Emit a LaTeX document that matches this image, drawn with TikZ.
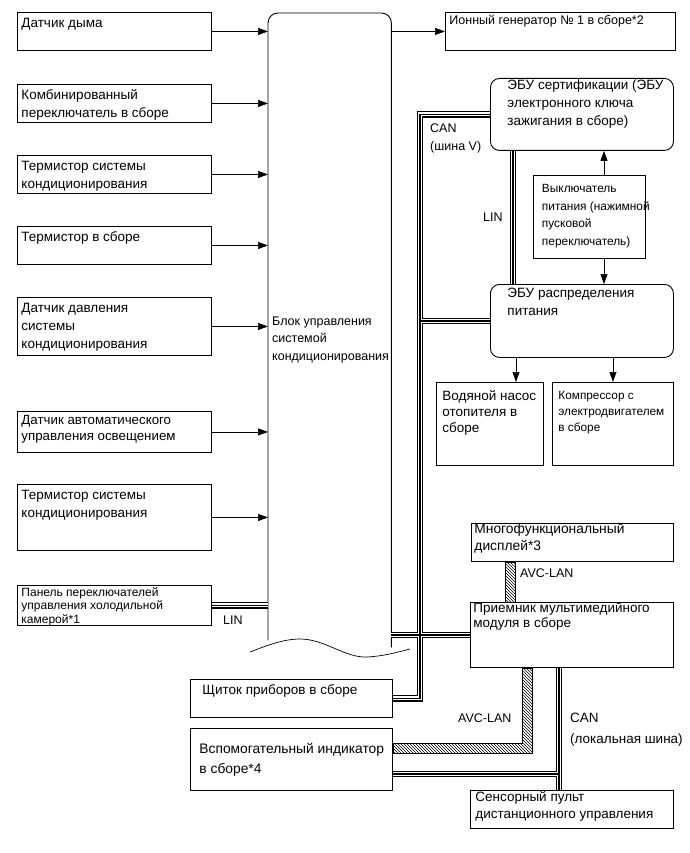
\documentclass[tikz,border=0pt]{standalone}
\usepackage{fontspec}
\setmainfont{Liberation Sans}
\usetikzlibrary{positioning, arrows.meta, patterns}

% text block of fixed size: width, height, left inset, first baseline, text
\newcommand{\cellbox}[5]{\makebox[#1pt][l]{\parbox[c][#2pt][t]{400pt}{\raggedright\leftskip=#3pt\relax
  \vspace*{\dimexpr#4pt-\ht\strutbox\relax}\strut#5\par}}}

\tikzset{
    unitbox/.style={rectangle, draw, line width=0.9pt, inner sep=0pt, anchor=north west, font=\fontsize{13.5}{18}\selectfont},
    ecubox/.style={unitbox, rounded corners=9pt},
    smallbox/.style={unitbox, font=\fontsize{12}{13.5}\selectfont},
    arr/.style={-{Triangle[length=10pt, width=7pt]}, line width=0.7pt},
    bus/.style={line width=6.5pt, black, postaction={draw, white, line width=4pt}, postaction={draw, black, line width=1.6pt}},
    avclan/.style={draw, line width=0.7pt, pattern=north west lines},
    buslbl/.style={font=\fontsize{12.5}{18}\selectfont, align=left, inner sep=0pt}
}

\begin{document}
\begin{tikzpicture}[x=1pt, y=-1pt]
    \useasboundingbox (0,0) rectangle (689,853);

    % inputs
    \node[unitbox] (b1) at (17,12) {\cellbox{194}{38}{4}{15}{Датчик дыма}};
    \node[unitbox] (b2) at (17,84) {\cellbox{194}{38}{4}{15}{Комбинированный\\переключатель в сборе}};
    \node[unitbox] (b3) at (17,155) {\cellbox{194}{38}{4}{15}{Термистор системы\\кондиционирования}};
    \node[unitbox] (b4) at (17,226) {\cellbox{194}{38}{4}{15}{Термистор в сборе}};
    \node[unitbox] (b5) at (17,297) {\cellbox{194}{58}{4}{15}{Датчик давления\\системы\\кондиционирования}};
    \node[smallbox, font=\fontsize{13.3}{16}\selectfont] (b6) at (17,411) {\cellbox{194}{41}{4}{13}{Датчик автоматического\\управления освещением}};
    \node[unitbox] (b7) at (17,484) {\cellbox{194}{66}{4}{15}{Термистор системы\\кондиционирования}};
    \node[smallbox] (b8) at (17,585) {\cellbox{194}{40}{4}{11}{Панель переключателей\\управления холодильной\\камерой*1}};

    % control unit
    \node[inner sep=0pt, anchor=north west, font=\fontsize{12.5}{17.5}\selectfont] (ctrl) at (268,13)
        {\cellbox{123}{632}{4}{312}{Блок управления\\системой\\кондиционирования}};
    \draw[line width=0.9pt, rounded corners=10pt] ([yshift=5pt]ctrl.south west) -- (ctrl.north west)
        -- (ctrl.north east) -- ([yshift=-2pt]ctrl.south east);
    \draw[line width=0.7pt] (250,652) .. controls (268,645) and (284,639) .. (300,639)
        .. controls (325,639) and (345,658) .. (367,657) .. controls (385,656) and (398,652) .. (410,649);

    % right side
    \node[unitbox, font=\fontsize{12.5}{18}\selectfont] (ion) at (445,12) {\cellbox{230}{38}{4}{12.5}{Ионный генератор № 1 в сборе*2}};
    \node[ecubox] (cert) at (490,78) {\cellbox{183}{72}{17}{11}{ЭБУ сертификации (ЭБУ\\электронного ключа\\зажигания в сборе)}};
    \node[unitbox, font=\fontsize{11.9}{17.5}\selectfont] (sw) at (533,175) {\cellbox{112}{83}{8.5}{17.5}{Выключатель\\питания (нажимной\\пусковой\\переключатель)}};
    \node[ecubox] (dist) at (490,284) {\cellbox{183}{73}{17}{13.5}{ЭБУ распределения\\питания}};
    \node[unitbox, font=\fontsize{13.5}{16}\selectfont] (pump) at (436,382) {\cellbox{107}{83}{6}{18}{Водяной насос\\отопителя в\\сборе}};
    \node[unitbox, font=\fontsize{11.8}{16}\selectfont] (comp) at (552,382) {\cellbox{121}{83}{6}{17}{Компрессор с\\электродвигателем\\в сборе}};
    \node[unitbox, font=\fontsize{13.8}{16.5}\selectfont] (disp) at (471,523) {\cellbox{202}{38}{3}{10.5}{Многофункциональный\\дисплей*3}};
    \node[unitbox, font=\fontsize{13.5}{15.5}\selectfont] (rcv) at (470,602) {\cellbox{203}{65}{3}{10}{Приемник мультимедийного\\модуля в сборе}};
    \node[unitbox] (shch) at (190,679) {\cellbox{202}{38}{12}{15}{Щиток приборов в сборе}};
    \node[unitbox, font=\fontsize{13.8}{20}\selectfont] (aux) at (190,728) {\cellbox{202}{62}{9}{25}{Вспомогательный индикатор\\в сборе*4}};
    \node[unitbox, font=\fontsize{13.5}{17}\selectfont] (pult) at (470,790) {\cellbox{203}{38}{5}{11.5}{Сенсорный пульт\\дистанционного управления}};

    % bus positions
    \coordinate (canV) at (420,0);
    \coordinate (linV) at (513,0);
    \coordinate (canL) at (559,0);
    \coordinate (swx) at (604,0);
    \coordinate (pumpx) at (516,0);
    \coordinate (avcU1) at (505,0);
    \coordinate (avcU2) at (515,0);
    \coordinate (avcL1) at (522,0);
    \coordinate (avcL2) at (532,0);
    \coordinate (avcLy1) at (0,743);
    \coordinate (avcLy2) at (0,753);
    \coordinate (auxcan) at (0,774);

    % signal arrows
    \foreach \b in {b1,b2,b3,b4,b5,b6,b7}
        \draw[arr] (\b.east) -- (\b.east -| ctrl.west);
    \draw[arr] (ctrl.east |- ion.west) -- (ion.west);
    \draw[arr] (sw.north -| swx) -- (cert.south -| swx);
    \draw[arr] (sw.south -| swx) -- (dist.north -| swx);
    \draw[arr] (dist.south -| pumpx) -- (pump.north -| pumpx);
    \draw[arr] (dist.south -| comp.north) -- (comp.north);

    % CAN / LIN
    \draw[bus] (cert.west) -| (canV |- shch.east) -- (shch.east)
        (canV |- dist.west) -- (dist.west)
        (ctrl.east |- rcv.west) -- (rcv.west);
    \draw[bus] (cert.south -| linV) -- (dist.north -| linV);
    \draw[bus] (b8.east) -- (b8.east -| ctrl.west);
    \draw[bus] (rcv.south -| canL) -- (pult.north -| canL)
        (aux.east |- auxcan) -- (canL |- auxcan);

    % AVC-LAN
    \draw[avclan] (disp.south -| avcU1) rectangle (rcv.north -| avcU2);
    \draw[avclan] (rcv.south -| avcL1) -- (rcv.south -| avcL2) -- (avcL2 |- avcLy2)
        -- (aux.east |- avcLy2) -- (aux.east |- avcLy1) -- (avcL1 |- avcLy1) -- cycle;

    % bus labels
    \node[buslbl, anchor=north west] (lcanv) at (430,124) {CAN\\(шина V)};
    \node[buslbl, anchor=base west] (llin1) at (483,221) {LIN};
    \node[buslbl, anchor=base west] (llin2) at (223,624) {LIN};
    \node[buslbl, anchor=base west] (lavc1) at (520,577) {AVC-LAN};
    \node[buslbl, anchor=base west] (lavc2) at (458,722) {AVC-LAN};
    \node[buslbl, anchor=north west, font=\fontsize{13.5}{21}\selectfont] (lcanl) at (570,713) {CAN\\(локальная шина)};
\end{tikzpicture}
\end{document}
